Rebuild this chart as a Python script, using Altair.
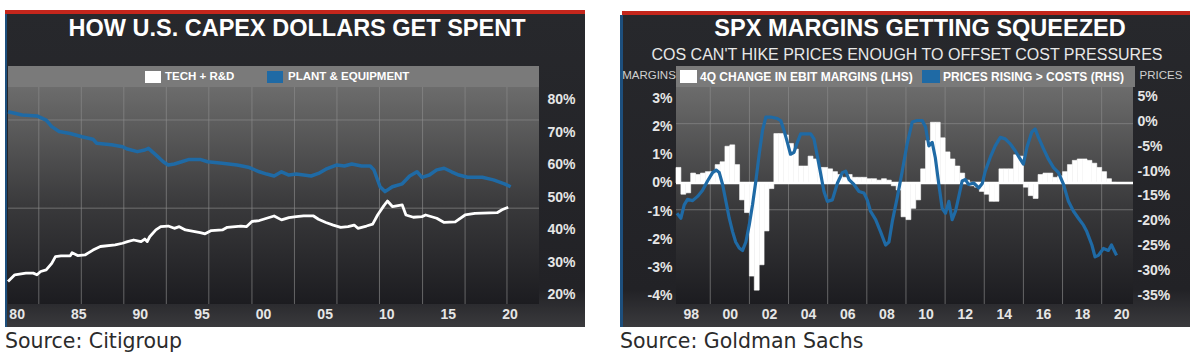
import altair as alt
import pandas as pd

# ---------------- Left panel: how U.S. capex dollars get spent (% share) ----------------
tech_years = [1979.3, 1979.85, 1980.75, 1981.35, 1981.65, 1981.95, 1982.4, 1982.85, 1983.15, 1983.6,
              1984.35, 1984.5, 1984.95, 1985.55, 1986.2, 1986.8, 1988.0, 1988.6, 1989.0, 1989.5,
              1990.1, 1990.4, 1990.6, 1990.8, 1991.3, 1991.7, 1992.3, 1992.8, 1993.2, 1993.7,
              1994.9, 1995.3, 1995.8, 1996.7, 1997.1, 1998.2, 1998.65, 1999.1, 1999.7, 2000.3,
              2000.9, 2001.5, 2002.1, 2002.7, 2003.3, 2004.1, 2004.5, 2005.1, 2005.7, 2006.3,
              2006.9, 2007.4, 2007.7, 2008.4, 2008.9, 2009.3, 2009.8, 2010.1, 2010.5, 2011.3,
              2011.6, 2012.2, 2012.9, 2013.2, 2014.1, 2014.7, 2015.6, 2016.4, 2017.2, 2019.0,
              2019.4, 2019.9]
tech_share = [24.1, 26.2, 26.7, 26.7, 26.2, 27.2, 27.7, 29.7, 31.8, 32.0,
              32.0, 33.0, 32.1, 32.3, 33.8, 34.9, 35.4, 35.9, 36.4, 36.9,
              36.4, 37.2, 36.4, 37.9, 40.0, 41.0, 41.2, 40.5, 41.0, 40.0,
              39.2, 38.8, 39.8, 40.0, 40.8, 41.2, 41.0, 42.6, 42.9, 43.6,
              44.3, 43.1, 43.8, 44.1, 44.3, 44.3, 43.3, 42.3, 41.5, 40.8,
              41.0, 41.5, 40.5, 41.2, 41.8, 44.6, 47.4, 48.9, 47.2, 47.7,
              44.6, 43.9, 44.1, 44.6, 43.6, 42.3, 42.5, 44.6, 45.1, 45.3,
              46.2, 47.0]

plant_years = [1979.3, 1979.85, 1980.45, 1981.65, 1982.4, 1982.85, 1983.45, 1984.35, 1985.3, 1986.2,
               1986.5, 1987.7, 1988.6, 1989.0, 1989.8, 1990.4, 1990.7, 1991.3, 1991.9, 1992.3,
               1992.8, 1993.4, 1994.0, 1994.9, 1995.5, 1996.7, 1997.9, 1998.8, 1999.7, 2000.3,
               2000.9, 2001.5, 2002.1, 2002.7, 2003.9, 2004.5, 2005.1, 2006.0, 2006.6, 2007.2,
               2008.0, 2008.7, 2009.0, 2009.5, 2009.9, 2010.5, 2011.3, 2011.9, 2012.5, 2012.9,
               2013.5, 2014.1, 2014.7, 2015.3, 2015.9, 2016.6, 2017.8, 2018.7, 2019.6, 2020.1]
plant_share = [76.4, 75.9, 75.4, 75.1, 73.8, 71.8, 70.3, 69.7, 68.7, 67.9,
               66.7, 66.2, 65.6, 64.9, 64.1, 64.6, 65.1, 63.1, 61.0, 60.0,
               60.3, 61.0, 61.7, 61.7, 61.0, 60.5, 60.0, 59.3, 57.9, 57.2,
               56.6, 57.9, 56.9, 57.2, 56.6, 57.4, 58.7, 60.0, 59.7, 60.3,
               59.7, 59.7, 58.5, 53.3, 51.8, 53.3, 54.2, 56.6, 57.9, 56.2,
               56.9, 58.5, 59.0, 57.9, 56.9, 56.2, 56.2, 55.4, 54.2, 53.3]

left_x_ticks = [1980, 1985, 1990, 1995, 2000, 2005, 2010, 2015, 2020]
left_y_ticks = [20, 30, 40, 50, 60, 70, 80]
left_vgrid = [1981.8, 1985.25, 1988.7, 1992.15, 1995.6, 1999.1, 2002.55, 2006.0, 2009.45, 2012.95, 2016.4, 2019.8]
left_hgrid = [73.85, 46.7]

# ---------------- Right panel: SPX margins getting squeezed ----------------
margin_first_quarter = 1997.25
margin_change = [  # 4Q change in EBIT margins (LHS, %), quarterly from 1997 Q2
    0.55, -0.4, -0.35,
    0.35, 0.3, 0.35, 0.4,
    0.4, 0.65, 0.75, 1.3,
    1.35, 0.65, -0.6, -1.05,
    -3.3, -3.8, -2.9, -1.7,
    -0.2, 1.75, 1.75, 1.7,
    1.4, 1.2, 0.6, 0.6,
    0.95, 0.85, 0.55, 0.55,
    0.5, 0.4, 0.3, 0.2,
    0.3, 0.2, 0.2, 0.2,
    0.15, 0.15, 0.1, 0.15,
    0.1, -0.1, -0.25, -1.2,
    -1.3, -0.9, -0.6, 0.5,
    1.5, 2.15, 2.15, 1.6,
    1.1, 0.85, 0.6, 0.35,
    0.1, -0.1, -0.15, -0.3,
    -0.4, -0.65, -0.65, 0.5,
    0.5, 0.5, 1.0, 0.95,
    -0.15, -0.45, -0.55, 0.3,
    0.35, 0.35, 0.2, 0.25,
    0.4, 0.65, 0.8, 0.85,
    0.85, 0.8, 0.7, 0.55,
    0.4, 0.15, 0.02,
]

price_years = [1997.3, 1997.5, 1997.67, 1997.84, 1998.1, 1998.35, 1998.6, 1998.86, 1999.12, 1999.3,
               1999.46, 1999.63, 1999.8, 1999.97, 2000.14, 2000.3, 2000.48, 2000.65, 2000.82, 2000.99,
               2001.16, 2001.33, 2001.5, 2001.67, 2001.84, 2002.09, 2002.43, 2002.6, 2002.77, 2002.94,
               2003.1, 2003.28, 2003.45, 2003.62, 2003.79, 2004.13, 2004.3, 2004.55, 2004.81, 2004.98,
               2005.24, 2005.5, 2005.75, 2005.92, 2006.09, 2006.34, 2006.6, 2006.85, 2007.02, 2007.19,
               2007.45, 2007.7, 2007.96, 2008.13, 2008.3, 2008.55, 2008.81, 2009.06, 2009.32, 2009.57,
               2009.83, 2010.0, 2010.17, 2010.34, 2010.5, 2010.68, 2010.85, 2011.02, 2011.19, 2011.36,
               2011.53, 2011.7, 2011.87, 2012.04, 2012.2, 2012.46, 2012.72, 2012.9, 2013.05, 2013.3,
               2013.56, 2013.82, 2014.07, 2014.33, 2014.58, 2014.84, 2015.0, 2015.18, 2015.43, 2015.6,
               2015.77, 2016.03, 2016.28, 2016.54, 2016.79, 2017.05, 2017.3, 2017.56, 2017.81, 2018.07,
               2018.24, 2018.5, 2018.66, 2018.83, 2019.09, 2019.34, 2019.5, 2019.76]
price_vals = [-18.5, -19.5, -16.8, -15.7, -15.95, -15.1, -13.9, -12.0, -10.3, -9.8,
              -10.3, -12.7, -16.1, -19.5, -22.2, -24.3, -25.5, -26.0, -24.3, -20.9,
              -16.8, -12.0, -6.6, -1.8, 0.9, 0.9, 0.6, 0.2, -1.8, -4.2,
              -6.6, -6.2, -4.2, -2.5, -2.5, -2.5, -3.5, -8.6, -14.1, -16.1,
              -15.8, -12.4, -10.3, -10.0, -11.7, -12.7, -14.1, -14.4, -15.8, -18.1,
              -19.8, -22.2, -24.9, -24.3, -20.2, -15.4, -10.0, -4.5, -0.1, 0.2,
              0.2, -1.1, -4.9, -4.2, -7.3, -12.7, -17.5, -18.5, -16.1, -19.8,
              -18.1, -15.1, -12.0, -11.7, -12.7, -12.4, -13.4, -12.5, -10.0, -7.3,
              -4.9, -3.2, -3.5, -4.5, -5.9, -7.6, -8.6, -5.2, -2.1, -1.5,
              -3.2, -5.5, -7.6, -9.3, -10.3, -12.7, -16.1, -18.1, -19.5, -20.9,
              -22.2, -24.9, -27.3, -27.0, -25.6, -26.0, -24.9, -27.0]

right_x_ticks = [1998, 2000, 2002, 2004, 2006, 2008, 2010, 2012, 2014, 2016, 2018, 2020]
margin_ticks = [-4, -3, -2, -1, 0, 1, 2, 3]
price_ticks = [-35, -30, -25, -20, -15, -10, -5, 0, 5]
right_vgrid = [1999, 2001, 2003, 2005, 2007, 2009, 2011, 2013, 2015, 2017, 2019]
right_hgrid = [2.1, -0.95]

assert len(tech_years) == len(tech_share)
assert len(plant_years) == len(plant_share)
assert len(price_years) == len(price_vals)

# ---------------- styling ----------------
NARROW = "Liberation Sans Narrow, Liberation Sans, Arial, sans-serif"
SANS = "Liberation Sans, Arial, sans-serif"
SRC_FONT = "DejaVu Sans, Verdana, sans-serif"
BLUE = "#1f6aa5"
GRID = "#8c8c8c"
LABEL = "#e6e6e6"
W1, W2, H = 531, 457, 217

one = pd.DataFrame({"k": [0]})


def grad(stops):
    return alt.Gradient(gradient="linear", x1=0, x2=0, y1=0, y2=1,
                        stops=[alt.GradientStop(offset=o, color=c) for o, c in stops])


def rect(x1, x2, y1, y2, **kw):
    return alt.Chart(one).mark_rect(**kw).encode(
        x=alt.value(x1), x2=alt.value(x2), y=alt.value(y1), y2=alt.value(y2))


def text(x, y, s, **kw):
    return alt.Chart(one).mark_text(**kw).encode(
        x=alt.value(x), y=alt.value(y), text=alt.value(s))


def axis(values, orient, expr, pad):
    return alt.Axis(values=values, orient=orient, labelExpr=expr, title=None, ticks=False,
                    domain=False, grid=False, labelPadding=pad, labelFont=SANS, labelFontSize=14,
                    labelFontWeight="bold", labelColor=LABEL, labelOverlap=False,
                    labelFlush=False, zindex=2)


YEAR2 = "substring(toString(datum.value), 2, 4)"
PCT = "datum.value + '%'"

panel_fill = grad([(0, "#27282c"), (0.88, "#222226"), (1, "#3a3a3d")])
plot_fill = grad([(0, "#6c6c6c"), (0.12, "#616161"), (0.55, "#39393b"), (1, "#1c1c20")])

# ---------------- left chart (origin at page x=8, y=87) ----------------
lx_scale = alt.Scale(domain=[1979.3, 2022.4], nice=False, zero=False)
ly_scale = alt.Scale(domain=[17.2, 84.0], nice=False, zero=False)
lx_axis = axis(left_x_ticks, "bottom", YEAR2, 3)
ly_axis = axis(left_y_ticks, "right", PCT, 8)

l_bg = rect(-8, 1192, -87, 267, fill="white")
l_panel = rect(-3, 577, -74, 240, fill=panel_fill)
l_red = rect(-3, 577, -77, -73, fill="#c4261c")
l_edge = rect(-3, -1, -73, 240, fill="#1d4f7d")
l_legbar = rect(0, W1, -21, 0, fill="#7a7a7a")
l_plot = rect(0, W1, 0, H, fill=plot_fill)

l_vgrid = alt.Chart(pd.DataFrame({"g": left_vgrid})).mark_rule(color=GRID, strokeWidth=1, opacity=0.65).encode(
    x=alt.X("g:Q", scale=lx_scale, axis=lx_axis))
l_hgrid = alt.Chart(pd.DataFrame({"g": left_hgrid})).mark_rule(color=GRID, strokeWidth=1, opacity=0.65).encode(
    y=alt.Y("g:Q", scale=ly_scale, axis=ly_axis))

plant_line = alt.Chart(pd.DataFrame({"year": plant_years, "share": plant_share})).mark_line(
    color=BLUE, strokeWidth=3.5, strokeJoin="round").encode(
    x=alt.X("year:Q", scale=lx_scale, axis=lx_axis), y=alt.Y("share:Q", scale=ly_scale, axis=ly_axis))
tech_line = alt.Chart(pd.DataFrame({"year": tech_years, "share": tech_share})).mark_line(
    color="white", strokeWidth=2.8, strokeJoin="round").encode(
    x=alt.X("year:Q", scale=lx_scale, axis=lx_axis), y=alt.Y("share:Q", scale=ly_scale, axis=ly_axis))

l_title = text(289, -58, "HOW U.S. CAPEX DOLLARS GET SPENT", font=NARROW, fontSize=23.5,
               fontWeight="bold", color="white", align="center", baseline="middle")
l_sw1 = rect(137, 153, -16, -4, fill="white")
l_lab1 = text(157, -10, "TECH + R&D", font=SANS, fontSize=11.5, fontWeight="bold",
              color="white", align="left", baseline="middle")
l_sw2 = rect(259, 275, -16, -4, fill=BLUE)
l_lab2 = text(280, -10, "PLANT & EQUIPMENT", font=SANS, fontSize=11.5, fontWeight="bold",
              color="white", align="left", baseline="middle")
l_src = text(-3, 261, "Source: Citigroup", font=SRC_FONT, fontSize=20.5, color="#2b2b2b",
             align="left", baseline="alphabetic")

left = alt.layer(l_bg, l_panel, l_red, l_edge, l_legbar, l_plot, l_vgrid, l_hgrid,
                 plant_line, tech_line, l_title, l_sw1, l_lab1, l_sw2, l_lab2, l_src
                 ).properties(width=W1, height=H)

# ---------------- right chart (origin at page x=676, y=87) ----------------
rx_scale = alt.Scale(domain=[1997.25, 2020.6], nice=False, zero=False)
rl_scale = alt.Scale(domain=[-4.29, 3.40], nice=False, zero=False)
rr_scale = alt.Scale(domain=[-36.8, 6.96], nice=False, zero=False)
rx_axis = axis(right_x_ticks, "bottom", YEAR2, 3)
rl_axis = axis(margin_ticks, "left", PCT, 4)
rr_axis = axis(price_ticks, "right", PCT, 4)

r_panel = rect(-54, 514, -73, 240, fill=panel_fill)
r_red = rect(-54, 514, -76, -72, fill="#c4261c")
r_edge = rect(-56, -53, -72, 240, fill="#1d4f7d")
r_legbar = rect(0, 459, -21, 0, fill="#7a7a7a")
r_plot = rect(0, W2, 0, H, fill=plot_fill)

r_vgrid = alt.Chart(pd.DataFrame({"g": right_vgrid})).mark_rule(color=GRID, strokeWidth=1, opacity=0.65).encode(
    x=alt.X("g:Q", scale=rx_scale, axis=rx_axis))
r_hgrid = alt.Chart(pd.DataFrame({"g": right_hgrid})).mark_rule(color=GRID, strokeWidth=1, opacity=0.65).encode(
    y=alt.Y("g:Q", scale=rl_scale, axis=None))

q_start = [margin_first_quarter + 0.25 * i for i in range(len(margin_change))]
bars_df = pd.DataFrame({"q": q_start, "chg": margin_change})
bars_df["q2"] = bars_df["q"] + 0.25
bars_df["base"] = 0.0
bars = alt.Chart(bars_df).mark_rect(color="white", stroke="white", strokeWidth=0.6).encode(
    x=alt.X("q:Q", scale=rx_scale, axis=rx_axis), x2="q2:Q",
    y=alt.Y("chg:Q", scale=rl_scale, axis=rl_axis), y2="base:Q")
zero_line = alt.Chart(pd.DataFrame({"z": [0.0]})).mark_rule(color="white", strokeWidth=2.5).encode(
    y=alt.Y("z:Q", scale=rl_scale, axis=None))
price_line = alt.Chart(pd.DataFrame({"year": price_years, "v": price_vals})).mark_line(
    color=BLUE, strokeWidth=3.2, strokeJoin="round").encode(
    x=alt.X("year:Q", scale=rx_scale, axis=rx_axis), y=alt.Y("v:Q", scale=rr_scale, axis=rr_axis))

r_title = text(244, -58, "SPX MARGINS GETTING SQUEEZED", font=NARROW, fontSize=23.5,
               fontWeight="bold", color="white", align="center", baseline="middle")
r_sub = text(231, -32, "COS CAN'T HIKE PRICES ENOUGH TO OFFSET COST PRESSURES", font=NARROW,
             fontSize=16, color="#e8e8e8", align="center", baseline="middle")
r_marg = text(-27, -11, "MARGINS", font=NARROW, fontSize=11.5, color="#d0d0d0",
              align="center", baseline="middle")
r_pric = text(485, -11, "PRICES", font=NARROW, fontSize=11.5, color="#d0d0d0",
              align="center", baseline="middle")
r_sw1 = rect(4, 21, -17, -4, fill="white")
r_lab1 = text(24, -10, "4Q CHANGE IN EBIT MARGINS  (LHS)", font=NARROW, fontSize=12,
              fontWeight="bold", color="white", align="left", baseline="middle")
r_sw2 = rect(246, 264, -17, -4, fill=BLUE)
r_lab2 = text(267, -10, "PRICES RISING > COSTS  (RHS)", font=NARROW, fontSize=12,
              fontWeight="bold", color="white", align="left", baseline="middle")
r_src = text(-56, 261, "Source: Goldman Sachs", font=SRC_FONT, fontSize=20.5, color="#2b2b2b",
             align="left", baseline="alphabetic")

right = alt.layer(r_panel, r_red, r_edge, r_legbar, r_plot, r_vgrid, r_hgrid, bars, zero_line,
                  price_line, r_title, r_sub, r_marg, r_pric, r_sw1, r_lab1, r_sw2, r_lab2, r_src
                  ).resolve_scale(y="independent").properties(width=W2, height=H)

chart = alt.HConcatChart(hconcat=[left, right], spacing=137, bounds="flush", padding=0,
                         background="white").configure_view(strokeWidth=0)

chart.save("out.html", embed_options={"renderer": "svg", "actions": False})
